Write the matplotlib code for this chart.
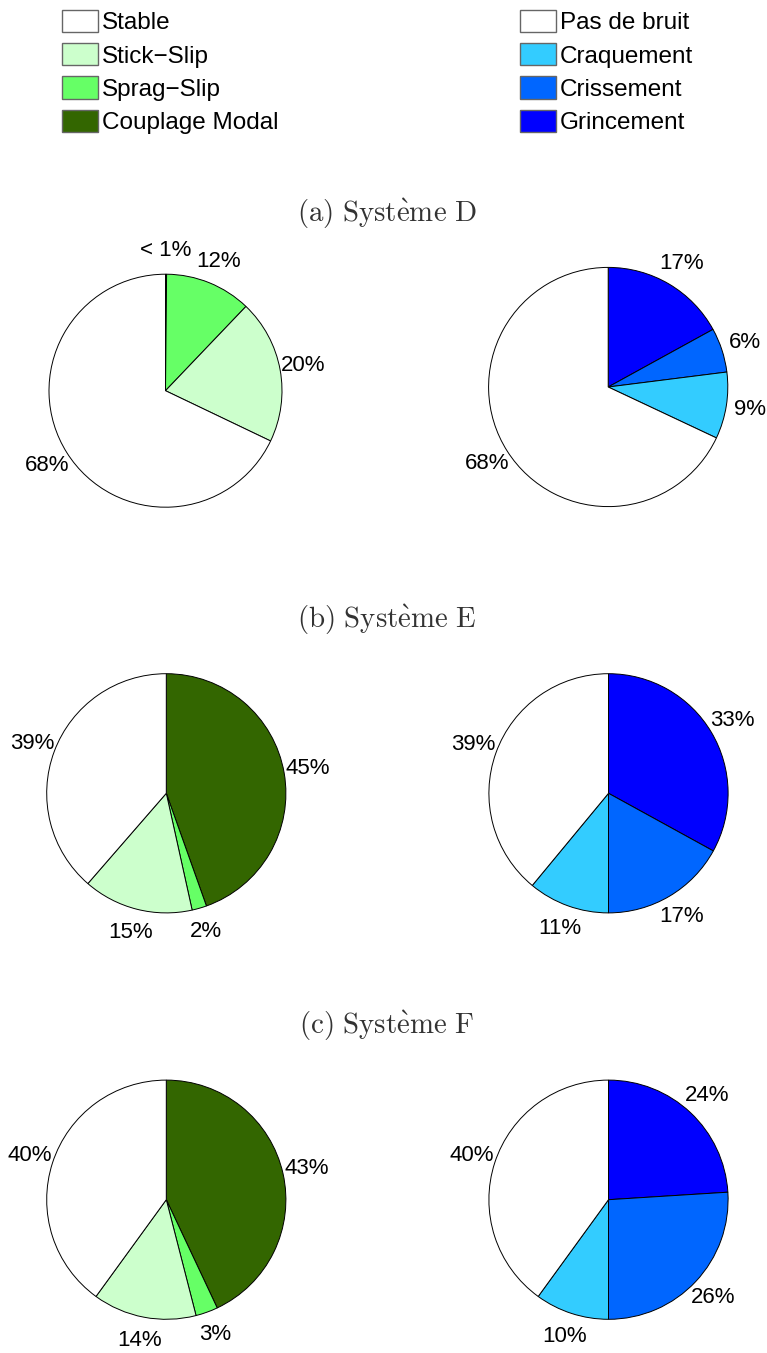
import matplotlib
matplotlib.use('Agg')
import matplotlib.pyplot as plt
from matplotlib.patches import Patch

plt.rcParams['font.family'] = ['Liberation Sans', 'DejaVu Sans']
plt.rcParams['mathtext.fontset'] = 'cm'

W, H = 767, 1353

# legend order (pies are drawn clockwise from the top in reverse order)
type_labels = ['Stable', 'Stick\u2212Slip', 'Sprag\u2212Slip', 'Couplage Modal']
type_colors = ['#FFFFFF', '#CCFFCC', '#66FF66', '#336600']
noise_labels = ['Pas de bruit', 'Craquement', 'Crissement', 'Grincement']
noise_colors = ['#FFFFFF', '#33CCFF', '#0066FF', '#0000FF']

systems = ['(a) Système D', '(b) Système E', '(c) Système F']

# percentages, legend order
type_D = [68, 20, 12, 0.15]
type_E = [39, 15, 2, 45]
type_F = [40, 14, 3, 43]
noise_D = [68, 9, 6, 17]
noise_E = [39, 11, 17, 33]
noise_F = [40, 10, 26, 24]

type_vals = [type_D, type_E, type_F]
noise_vals = [noise_D, noise_E, noise_F]

# pixel layout: (cx, cy, r)
left_pies = [(165.5, 390.7, 116.5), (166.3, 793.3, 119.6), (166.3, 1199.7, 119.6)]
right_pies = [(608.2, 387.0, 119.6), (608.5, 793.3, 119.6), (608.5, 1199.7, 119.6)]
title_y = [214, 620, 1026]


def pct_label(v):
    return '< 1%' if v < 1 else f'{round(v)}%'


def draw_pie(fig, geom, vals, colors):
    cx, cy, r = geom
    ax = fig.add_axes([(cx - 1.25 * r) / W, 1 - (cy + 1.25 * r) / H,
                       2.5 * r / W, 2.5 * r / H])
    v = vals[::-1]
    _, texts = ax.pie(v, colors=colors[::-1], startangle=90, counterclock=False,
                      labels=[pct_label(x) for x in v], labeldistance=1.2,
                      wedgeprops=dict(edgecolor='black', linewidth=0.7),
                      textprops=dict(fontsize=16))
    for t in texts:
        t.set_ha('center')
    ax.set_xlim(-1.25, 1.25)
    ax.set_ylim(-1.25, 1.25)
    return ax


fig = plt.figure(figsize=(W / 100, H / 100), dpi=100)

for i in range(3):
    draw_pie(fig, left_pies[i], type_vals[i], type_colors)
    draw_pie(fig, right_pies[i], noise_vals[i], noise_colors)
    s = systems[i].replace('è', r'\grave{e}').replace(' ', r'\ ')
    fig.text(387 / W, 1 - title_y[i] / H, '$\\mathrm{' + s + '}$',
             ha='center', va='center', fontsize=20.8, color='#333333')

leg_kw = dict(loc='upper left', frameon=False, fontsize=17.5, handlelength=1.48,
              handleheight=1.03, handletextpad=0.16, labelspacing=0.36,
              borderpad=0, borderaxespad=0)
fig.legend(handles=[Patch(facecolor=c, edgecolor='0.4', linewidth=1) for c in type_colors],
           labels=type_labels, bbox_to_anchor=(62 / W, 1 - 10 / H), **leg_kw)
fig.legend(handles=[Patch(facecolor=c, edgecolor='0.4', linewidth=1) for c in noise_colors],
           labels=noise_labels, bbox_to_anchor=(520 / W, 1 - 10 / H), **leg_kw)

fig.savefig('out.png', dpi=100)
